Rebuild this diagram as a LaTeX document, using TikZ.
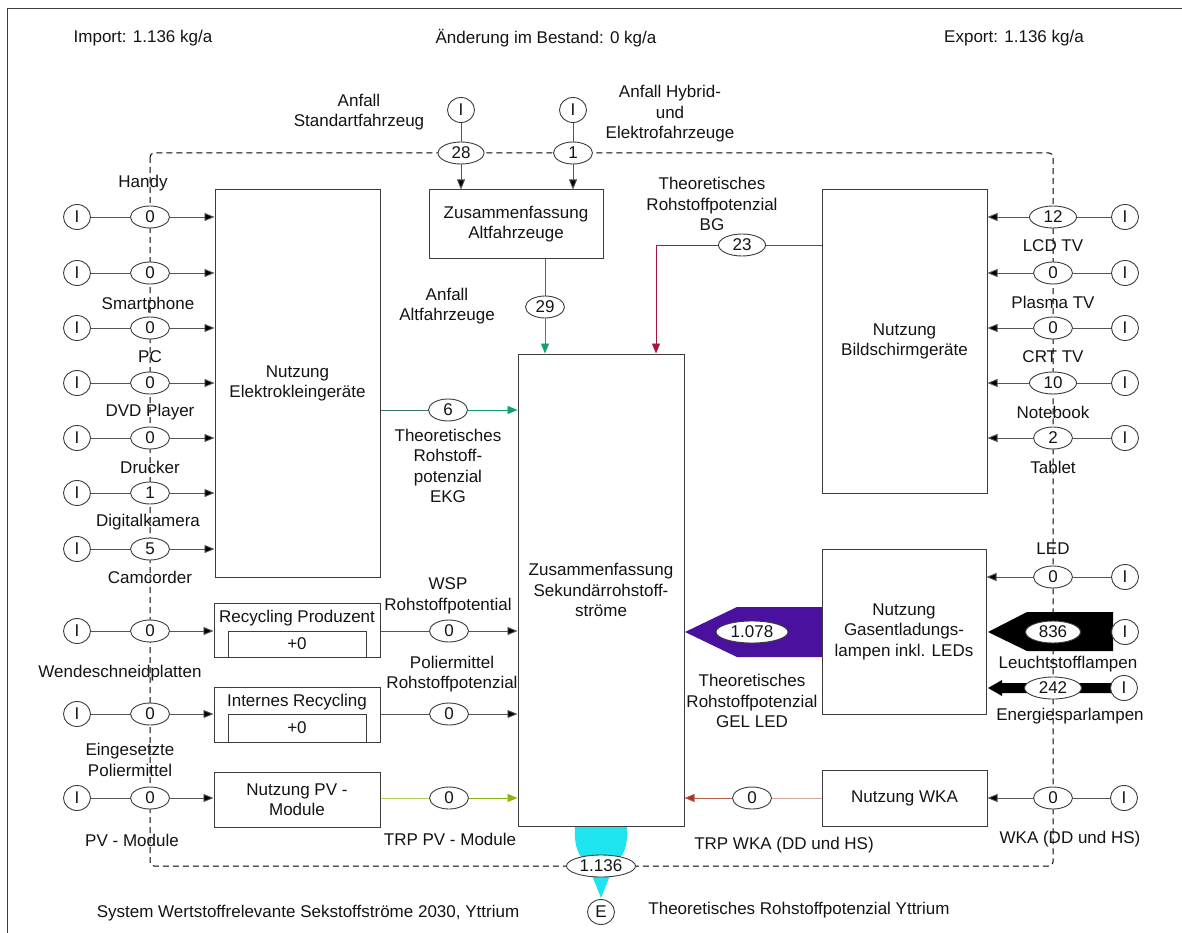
\documentclass[tikz,border=0pt]{standalone}
\usepackage{fontspec}
\setmainfont{Liberation Sans}
\usetikzlibrary{shapes.geometric,arrows.meta}
\definecolor{ink}{RGB}{20,20,20}
\definecolor{edge}{RGB}{60,60,60}
\definecolor{flowline}{RGB}{85,85,85}
\definecolor{flowgreen}{RGB}{20,160,110}
\definecolor{flowcrimson}{RGB}{170,20,60}
\definecolor{flowolive}{RGB}{140,180,20}
\definecolor{flowrust}{RGB}{165,50,30}
\definecolor{gelviolet}{RGB}{74,16,158}
\definecolor{exportcyan}{RGB}{30,228,240}
\newcommand{\lblfont}{\fontsize{17}{20.5}\selectfont}
\begin{document}
\begin{tikzpicture}[x=1pt,y=-1pt,
  txt/.style={font=\lblfont, text=ink, align=center, inner sep=0pt},
  src/.style={ellipse, draw=edge, fill=white, line width=0.9pt, minimum width=27pt, minimum height=25pt, inner sep=0pt, font=\lblfont, text=ink},
  val/.style={ellipse, draw=edge, fill=white, line width=0.9pt, minimum width=#1, minimum height=22pt, inner sep=0pt, font=\lblfont, text=ink},
  proc/.style={draw=edge, fill=white, line width=1pt, inner sep=0pt, font=\lblfont, text=ink, align=center},
  flow/.style={draw=flowline, line width=0.9pt},
  arr/.style={flow, -{Triangle[length=10pt,width=8pt,fill=black]}}
]
\useasboundingbox (0,0) rectangle (1182,933);
\fill[white] (0,0) rectangle (1182,933);

% outer frame
\draw[edge, line width=1pt] (7,933) -- (7,9) -- (1182,9);

% system boundary
\draw[black, line width=1pt, dash pattern=on 6pt off 4pt, rounded corners=4pt] (150,153) rectangle (1053,866);

% broad flows
\fill[gelviolet] (822,607) -- (737,607) -- (685,632) -- (737,657) -- (822,657) -- cycle;
\fill[black] (1113,612) -- (1027,612) -- (988,632) -- (1027,651) -- (1113,651) -- cycle;
\fill[black] (1115,683) -- (1002,683) -- (1002,680) -- (988,688) -- (1002,696) -- (1002,693) -- (1115,693) -- cycle;
\fill[exportcyan] (575,826) -- (627,826) .. controls (628,848) and (624,856) .. (612,866)
  -- (609,878) -- (601,898) -- (593,878) -- (590,866) .. controls (578,856) and (574,848) .. (575,826) -- cycle;

% header
\node[txt] (hImport) at (143,38) {Import: 1.136 kg/a};
\node[txt] (hBestand) at (546,38) {Änderung im Bestand: 0 kg/a};
\node[txt] (hExport) at (1014,38) {Export: 1.136 kg/a};

% processes
\node[proc, minimum width=165pt, minimum height=387pt] (ekg) at (297.5,383.5) {Nutzung\\Elektrokleingeräte};
\node[proc, minimum width=174pt, minimum height=68pt] (alt) at (516,224) {Zusammenfassung\\Altfahrzeuge};
\node[proc, minimum width=166pt, minimum height=472pt] (cen) at (601,590) {Zusammenfassung\\Sekundärrohstoff-\\ströme};
\node[proc, minimum width=165pt, minimum height=303pt] (bg) at (904.5,341.5) {Nutzung\\Bildschirmgeräte};
\node[proc, minimum width=164pt, minimum height=165pt] (gel) at (904,631.5) {Nutzung\\Gasentladungs-\\lampen inkl. LEDs};
\node[proc, minimum width=165pt, minimum height=56pt] (wka) at (904.5,798) {Nutzung WKA};
\node[proc, minimum width=166pt, minimum height=55pt] (pv) at (297,799.5) {Nutzung PV -\\Module};
\node[proc, minimum width=166pt, minimum height=54pt] (rp) at (297,630) {};
\node[txt] (rpTitle) at (297,618) {Recycling Produzent};
\node[proc, minimum width=138pt, minimum height=26pt] (rpStock) at (297,644) {+0};
\node[proc, minimum width=166pt, minimum height=55pt] (ir) at (297,714.5) {};
\node[txt] (irTitle) at (297,702) {Internes Recycling};
\node[proc, minimum width=138pt, minimum height=28pt] (irStock) at (297,728) {+0};

% vehicle inputs
\node[src] (iStd) at (461,110) {I};
\node[val=46pt] (v28) at (461,153) {28};
\draw[flow] (iStd) -- (v28);
\draw[arr] (v28) -- (v28 |- alt.north);
\node[src] (iHyb) at (573,110) {I};
\node[val=39pt] (vHyb) at (573,153) {1};
\draw[flow] (iHyb) -- (vHyb);
\draw[arr] (vHyb) -- (vHyb |- alt.north);
\node[txt] (lStd) at (359,112) {Anfall\\Standartfahrzeug};
\node[txt] (lHyb) at (670,114) {Anfall Hybrid-\\und\\Elektrofahrzeuge};

% small electrical devices
\foreach \n/\y/\v in {1/217/0,2/273/0,3/328/0,4/383/0,5/438/0,6/493/1,7/549/5}{
  \node[src] (iE\n) at (77,\y) {I};
  \node[val=39pt] (vE\n) at (150,\y) {\v};
  \draw[flow] (iE\n) -- (vE\n);
  \draw[arr] (vE\n) -- (vE\n -| ekg.west);
}
\node[txt] (lHandy) at (143,183) {Handy};
\node[txt] (lSmart) at (148,305) {Smartphone};
\node[txt] (lPC) at (150,357) {PC};
\node[txt] (lDVD) at (150,412) {DVD Player};
\node[txt] (lDruck) at (150,467) {Drucker};
\node[txt] (lDigi) at (148,522) {Digitalkamera};
\node[txt] (lCam) at (150,577) {Camcorder};

% recycling, polishing, PV inputs
\foreach \n/\y/\bx in {RP/631/rp,IR/714/ir,PV/798/pv}{
  \node[src] (i\n) at (77,\y) {I};
  \node[val=39pt] (vIn\n) at (150,\y) {0};
  \draw[flow] (i\n) -- (vIn\n);
  \draw[arr] (vIn\n) -- (vIn\n -| \bx.west);
}
\node[txt] (lWende) at (120,673) {Wendeschneidplatten};
\node[txt] (lPolier) at (130,760) {Eingesetzte\\Poliermittel};
\node[txt] (lPVmod) at (132,840) {PV - Module};

% flows into the central node from the left
\node[val=39pt] (v6) at (448,410) {6};
\draw[draw=flowgreen!45!flowline, line width=0.9pt] (v6 -| ekg.east) -- (v6);
\draw[arr, draw=flowgreen, -{Triangle[length=10pt,width=8pt,fill=flowgreen]}] (v6) -- (v6 -| cen.west);
\node[txt] (lEKG) at (448,466) {Theoretisches\\Rohstoff-\\potenzial\\EKG};

\node[val=39pt] (vRP) at (449,631) {0};
\draw[flow] (vRP -| rp.east) -- (vRP);
\draw[arr] (vRP) -- (vRP -| cen.west);
\node[txt] (lWSP) at (448,596) {WSP\\Rohstoffpotential};

\node[val=39pt] (vIR) at (449,714) {0};
\draw[flow] (vIR -| ir.east) -- (vIR);
\draw[arr] (vIR) -- (vIR -| cen.west);
\node[txt] (lPolRP) at (452,674) {Poliermittel\\Rohstoffpotenzial};

\node[val=39pt] (vPV) at (449,798) {0};
\draw[draw=flowolive!70!white, line width=0.9pt] (vPV -| pv.east) -- (vPV);
\draw[arr, draw=flowolive, -{Triangle[length=10pt,width=8pt,fill=flowolive]}] (vPV) -- (vPV -| cen.west);
\node[txt] (lTRPPV) at (450,839) {TRP PV - Module};

% end-of-life vehicles
\node[val=39pt] (v29) at (545,307) {29};
\draw[draw=flowgreen!40!flowline, line width=0.9pt] (v29 |- alt.south) -- (v29);
\draw[arr, draw=flowgreen, -{Triangle[length=10pt,width=8pt,fill=flowgreen]}] (v29) -- (v29 |- cen.north);
\node[txt] (lAltf) at (447,306) {Anfall\\Altfahrzeuge};

% screen devices
\foreach \n/\y/\v/\w in {1/217/12/47pt,2/273/0/39pt,3/328/0/39pt,4/383/10/47pt,5/438/2/39pt}{
  \node[src] (iB\n) at (1125,\y) {I};
  \node[val=\w] (vB\n) at (1053,\y) {\v};
  \draw[flow] (iB\n) -- (vB\n);
  \draw[arr] (vB\n) -- (vB\n -| bg.east);
}
\node[txt] (lLCD) at (1053,246) {LCD TV};
\node[txt] (lPlasma) at (1053,302) {Plasma TV};
\node[txt] (lCRT) at (1053,357) {CRT TV};
\node[txt] (lNote) at (1053,412) {Notebook};
\node[txt] (lTab) at (1053,467) {Tablet};

\node[val=47pt] (v23) at (742,245) {23};
\coordinate (bgBend) at (656,245);
\draw[flow] (v23 -| bg.west) -- (v23);
\draw[arr, draw=flowcrimson, -{Triangle[length=10pt,width=8pt,fill=flowcrimson]}] (v23) -- (bgBend) -- (bgBend |- cen.north);
\node[txt] (lBG) at (712,204) {Theoretisches\\Rohstoffpotenzial\\BG};

% lamps
\node[src] (iLED) at (1125,577) {I};
\node[val=39pt] (vLED) at (1053,577) {0};
\draw[flow] (iLED) -- (vLED);
\draw[arr] (vLED) -- (vLED -| gel.east);
\node[txt] (lLED) at (1053,549) {LED};
\node[val=55pt] (vLS) at (1053,632) {836};
\node[src] (iLS) at (1125,632) {I};
\node[txt] (lLS) at (1068,664) {Leuchtstofflampen};
\node[val=57pt] (vES) at (1053,688) {242};
\node[src] (iES) at (1124,688) {I};
\node[txt] (lES) at (1070,716) {Energiesparlampen};
\node[val=72pt] (vGEL) at (752,632) {1.078};
\node[txt] (lGEL) at (752,701) {Theoretisches\\Rohstoffpotenzial\\GEL LED};

% wind turbines
\node[src] (iWKA) at (1124,798) {I};
\node[val=39pt] (vInWKA) at (1053,798) {0};
\draw[flow] (iWKA) -- (vInWKA);
\draw[arr] (vInWKA) -- (vInWKA -| wka.east);
\node[txt] (lWKAin) at (1070,839) {WKA (DD und HS)};
\node[val=39pt] (vWKA) at (752,798) {0};
\draw[draw=flowrust!45!white, line width=0.9pt] (vWKA -| wka.west) -- (vWKA);
\draw[arr, draw=flowrust!80!white, -{Triangle[length=10pt,width=8pt,fill=flowrust]}] (vWKA) -- (vWKA -| cen.east);
\node[txt] (lTRPWKA) at (784,845) {TRP WKA (DD und HS)};

% export
\node[val=69pt] (vOut) at (601,866) {1.136};
\node[src] (eOut) at (601,912) {E};
\node[txt] (lSystem) at (308,913) {System Wertstoffrelevante Sekstoffströme 2030, Yttrium};
\node[txt] (lYttrium) at (799,910) {Theoretisches Rohstoffpotenzial Yttrium};
\end{tikzpicture}
\end{document}
